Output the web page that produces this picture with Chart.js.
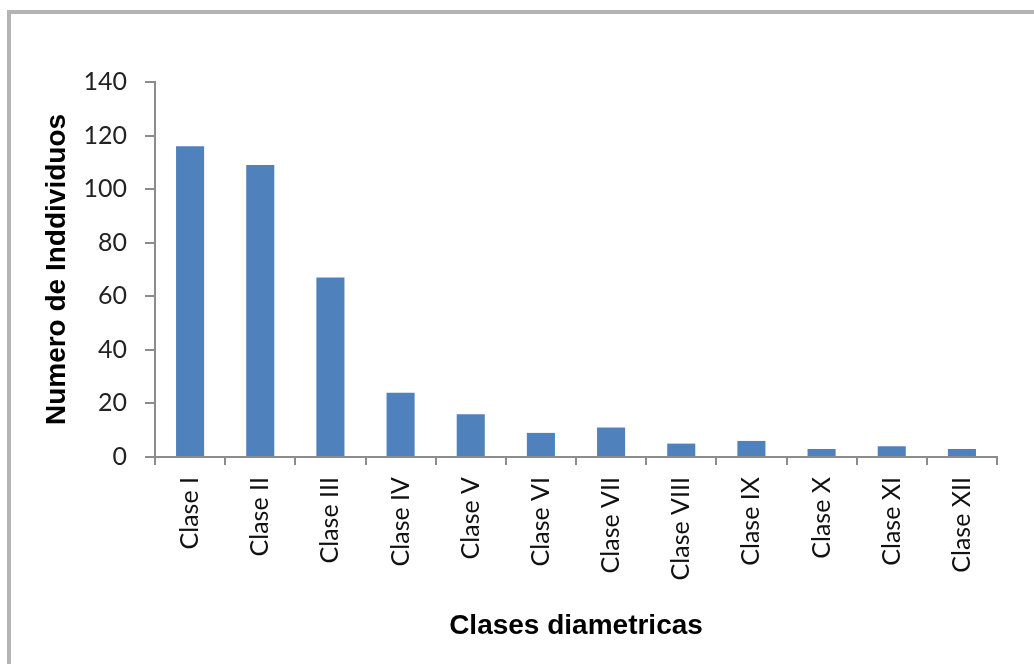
<!DOCTYPE html>
<html>
<head>
<meta charset="utf-8">
<script src="https://cdn.jsdelivr.net/npm/chart.js@4/dist/chart.umd.min.js"></script>
<style>
  html, body { margin: 0; padding: 0; background: #fff; overflow: hidden; }
  #wrap { position: relative; width: 1034px; height: 664px; }
  #frame {
    position: absolute; left: 7px; top: 10px; right: -10px; bottom: -10px;
    border-top: 4px solid #b4b4b4; border-left: 4px solid #b4b4b4;
  }
  canvas { position: absolute; left: 0; top: 0; }
</style>
</head>
<body>
<div id="wrap">
  <div id="frame"></div>
  <canvas id="chart" width="1034" height="664"></canvas>
</div>
<script>
// valores
const categories = ['Clase I', 'Clase II', 'Clase III', 'Clase IV', 'Clase V', 'Clase VI',
  'Clase VII', 'Clase VIII', 'Clase IX', 'Clase X', 'Clase XI', 'Clase XII'];
const individuos = [116, 109, 67, 24, 16, 9, 11, 5, 6, 3, 4, 3];
const yTicks = [0, 20, 40, 60, 80, 100, 120, 140];

const axisGrey = '#8c8c8c';
const tickFont = { family: 'Lato, "Open Sans", sans-serif', size: 25 };
const titleFont = { family: '"Liberation Sans", Arial, sans-serif', size: 28, weight: 'bold' };

let ctx = document.getElementById('chart').getContext('2d');
let myChart = new Chart(ctx, {
  type: 'bar',
  data: {
    labels: categories,
    datasets: [{
      label: 'Numero de Inddividuos',
      data: individuos,
      backgroundColor: '#4f81bd',
      barPercentage: 0.4,
      categoryPercentage: 1.0
    }]
  },
  options: {
    responsive: false,
    animation: false,
    layout: { padding: { left: 36, top: 82, right: 37, bottom: 17 } },
    plugins: {
      legend: { display: false },
      tooltip: { enabled: false }
    },
    scales: {
      x: {
        grid: { drawOnChartArea: false, drawTicks: true, tickLength: 8, color: axisGrey, lineWidth: 2 },
        border: { display: true, color: axisGrey, width: 2 },
        ticks: { color: '#111', font: tickFont, minRotation: 90, maxRotation: 90, padding: 12, autoSkip: false },
        title: { display: true, text: 'Clases diametricas', color: '#000', font: titleFont, padding: { top: 4, bottom: 4 } },
        afterFit(scale) { scale.height = 190; }
      },
      y: {
        min: 0,
        max: 140,
        afterBuildTicks(scale) { scale.ticks = yTicks.map(v => ({ value: v })); },
        grid: { drawOnChartArea: false, drawTicks: true, tickLength: 10, color: axisGrey, lineWidth: 2 },
        border: { display: true, color: axisGrey, width: 2 },
        ticks: { color: '#222', font: tickFont, padding: 18 },
        title: { display: true, text: 'Numero de Inddividuos', color: '#000', font: titleFont, padding: { top: 4, bottom: 4 } },
        afterFit(scale) { scale.width = 119; }
      }
    }
  }
});
</script>
</body>
</html>
